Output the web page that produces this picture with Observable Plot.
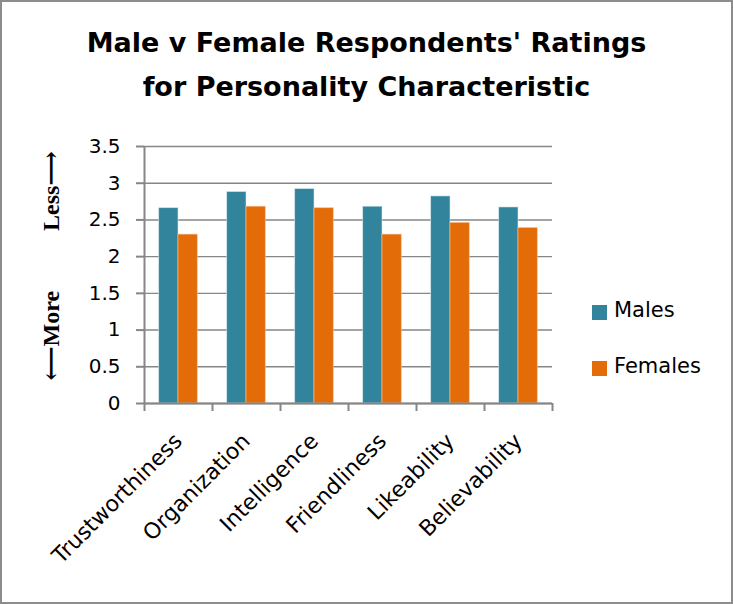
<!DOCTYPE html>
<html>
<head>
<meta charset="utf-8">
<script src="https://cdn.jsdelivr.net/npm/d3@7"></script>
<script src="https://cdn.jsdelivr.net/npm/@observablehq/plot@0.6"></script>
<style>
  html, body { margin: 0; padding: 0; background: #fff; }
  #chart { position: relative; width: 733px; height: 604px; overflow: hidden; background: #fff; font-family: "DejaVu Sans", sans-serif; }
  #border { position: absolute; left: 0; top: 0; width: 733px; height: 604px; box-sizing: border-box; border: 2px solid #8c8c8c; pointer-events: none; }
  #title { position: absolute; left: 0; width: 733px; top: 21px; text-align: center; font-family: "DejaVu Sans", sans-serif; font-weight: bold; font-size: 27px; line-height: 44px; color: #000; }
  #plot { position: absolute; left: 0; top: 0; }
  .leg { position: absolute; left: 592px; font-size: 21px; color: #000; font-family: "DejaVu Sans", sans-serif; line-height: 1; }
  .leg .sw { position: absolute; left: 0; width: 15px; height: 15px; }
  .leg .lab { position: absolute; left: 22px; white-space: nowrap; }
</style>
</head>
<body>
<div id="chart">
  <div id="plot"></div>
  <div id="title">Male v Female Respondents' Ratings<br>for Personality Characteristic</div>
  <div id="legend"></div>
  <div id="border"></div>
</div>
<script>
const title = "Male v Female Respondents' Ratings for Personality Characteristic";
const categories = ["Trustworthiness", "Organization", "Intelligence", "Friendliness", "Likeability", "Believability"];
const seriesNames = ["Males", "Females"];
const males = [2.66, 2.88, 2.92, 2.68, 2.82, 2.67];
const females = [2.30, 2.68, 2.66, 2.30, 2.46, 2.39];
const yTicks = [0, 0.5, 1, 1.5, 2, 2.5, 3, 3.5];
const yLabel = "\u27F5More" + "\u00a0".repeat(10) + "Less\u27F6";
const colors = ["#31849B", "#E36C09"];

const rows = [];
categories.forEach((c, i) => {
  rows.push({category: c, series: "Males", value: males[i]});
  rows.push({category: c, series: "Females", value: females[i]});
});

const W = 733, H = 604;
const mL = 144, mR = 181, mT = 146, mB = 201;
const bw = (W - mL - mR) / categories.length;   // band width
const gapOut = bw * 0.216;                        // outer gap on each side of the pair
const barW = (bw - 2 * gapOut) / 2;
const grid = "#868686";

const plot = Plot.plot({
  width: W, height: H,
  marginLeft: mL, marginRight: mR, marginTop: mT, marginBottom: mB,
  style: {fontFamily: "DejaVu Sans, sans-serif", color: "#000", background: "transparent"},
  x: {type: "band", domain: categories, padding: 0, axis: null},
  y: {domain: [0, 3.5], axis: null},
  color: {domain: seriesNames, range: colors},
  marks: [
    Plot.gridY(yTicks, {stroke: grid, strokeOpacity: 1, strokeWidth: 1.4}),
    Plot.barY(rows.filter(d => d.series === "Males"), {
      x: "category", y: "value", fill: "series",
      insetLeft: gapOut, insetRight: gapOut + barW,
      stroke: "#d9ecf2", strokeOpacity: 0.7, strokeWidth: 0.8
    }),
    Plot.barY(rows.filter(d => d.series === "Females"), {
      x: "category", y: "value", fill: "series",
      insetLeft: gapOut + barW, insetRight: gapOut,
      stroke: "#f7c89f", strokeOpacity: 0.7, strokeWidth: 0.8
    }),
    Plot.ruleY([0], {stroke: grid, strokeWidth: 2}),
    Plot.ruleX([categories[0]], {y1: 0, y2: 3.5, dx: -bw / 2, stroke: grid, strokeWidth: 2}),
    Plot.axisY({ticks: yTicks, label: null, tickSize: 8, tickPadding: 16, tickFormat: d => String(d), fontSize: 20, stroke: grid, strokeWidth: 2, fill: "#000"}),
    Plot.axisX({tickSize: 8, label: null, text: null, dx: -bw / 2, stroke: grid, strokeWidth: 2}),
    Plot.axisX({ticks: [categories[categories.length - 1]], label: null, tickSize: 8, text: null, dx: bw / 2, stroke: grid, strokeWidth: 2}),
    Plot.axisX({tickSize: 0, label: null, tickPadding: 34, tickRotate: -45, fontSize: 22, fill: "#000"}),
    Plot.text([yLabel], {frameAnchor: "left", textAnchor: "middle", dx: -93, dy: -9, rotate: -90, fontFamily: "Liberation Serif, DejaVu Serif, serif", fontWeight: "bold", fontSize: 24, fill: "#000"})
  ]
});
document.getElementById("plot").appendChild(plot);

const legend = document.getElementById("legend");
const legTops = [305, 361];
seriesNames.forEach((s, i) => {
  const item = document.createElement("div");
  item.className = "leg";
  item.style.top = legTops[i] + "px";
  item.innerHTML = `<div class="sw" style="background:${colors[i]}"></div><div class="lab" style="top:-5px">${s}</div>`;
  legend.appendChild(item);
});
</script>
</body>
</html>
